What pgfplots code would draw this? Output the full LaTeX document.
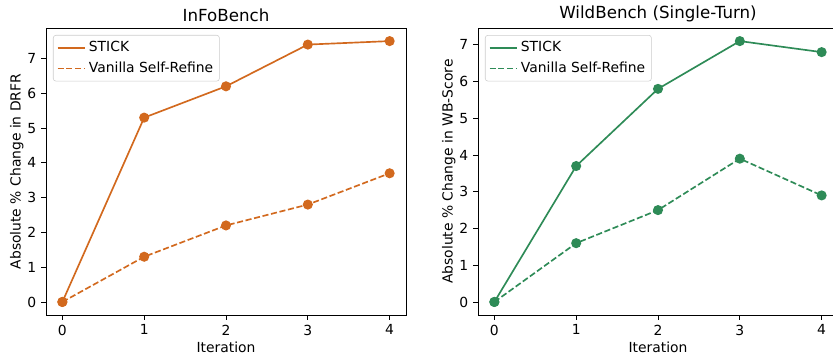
\documentclass[border=0pt]{standalone}
\usepackage{pgfplots}
\pgfplotsset{compat=1.18}
\usepackage{fontspec}
\setmainfont{DejaVu Sans}
\definecolor{corange}{RGB}{210,105,30}
\definecolor{cgreen}{RGB}{46,139,87}
\pgfplotsset{
  myax/.style={
    scale only axis, width=259.2pt, height=206.6pt,
    xmin=-0.2, xmax=4.2,
    xtick={0,1,2,3,4},
    tick align=outside, xtick pos=left, ytick pos=left,
    major tick length=3.5pt,
    every tick/.style={black, line width=0.6pt},
    axis line style={line width=0.6pt},
    tick label style={font=\fontsize{10}{12}\selectfont},
    label style={font=\fontsize{10}{12}\selectfont},
    title style={font=\fontsize{12}{14}\selectfont, yshift=-5pt},
    /pgf/number format/assume math mode=true,
    xlabel={Iteration},
    xlabel style={yshift=2pt},
    ylabel style={yshift=-4pt},
    legend style={at={(0,1)}, anchor=north west, xshift=5pt, yshift=-5pt,
      draw=black!20, rounded corners=2pt, fill=white, fill opacity=0.8, text opacity=1, draw opacity=1,
      font=\fontsize{10}{12}\selectfont, cells={anchor=west}, inner sep=2.5pt,
      row sep=2pt},
    legend image code/.code={\draw[#1, mark=none, draw opacity=1] (0pt,0pt) -- (20pt,0pt);},
    legend cell align=left,
  },
  s1/.style={line width=1.2pt, mark=*, mark size=3pt, mark options={solid}},
  s2/.style={line width=1.2pt, mark=*, mark size=3pt, mark options={solid}, dash pattern=on 4.4pt off 1.9pt},
}
\begin{document}
\begin{tikzpicture}
\useasboundingbox (0,0) rectangle (599.76pt,254.88pt);
\begin{axis}[myax, at={(33.12pt,28.08pt)}, anchor=south west,
  ymin=-0.375, ymax=7.875, ytick={0,1,2,3,4,5,6,7},
  title={InFoBench}, ylabel={Absolute \% Change in DRFR}]
\addplot[s1, color=corange] coordinates {(0,0) (1,5.3) (2,6.2) (3,7.4) (4,7.5)};
\addlegendentry{STICK}
\addplot[s2, color=corange] coordinates {(0,0) (1,1.3) (2,2.2) (3,2.8) (4,3.7)};
\addlegendentry{Vanilla Self-Refine}
\end{axis}
\begin{axis}[myax, at={(344.16pt,28.08pt)}, anchor=south west,
  ymin=-0.355, ymax=7.455, ytick={0,1,2,3,4,5,6,7},
  title={WildBench (Single-Turn)}, ylabel={Absolute \% Change in WB-Score}]
\addplot[s1, color=cgreen] coordinates {(0,0) (1,3.7) (2,5.8) (3,7.1) (4,6.8)};
\addlegendentry{STICK}
\addplot[s2, color=cgreen] coordinates {(0,0) (1,1.6) (2,2.5) (3,3.9) (4,2.9)};
\addlegendentry{Vanilla Self-Refine}
\end{axis}
\end{tikzpicture}
\end{document}
